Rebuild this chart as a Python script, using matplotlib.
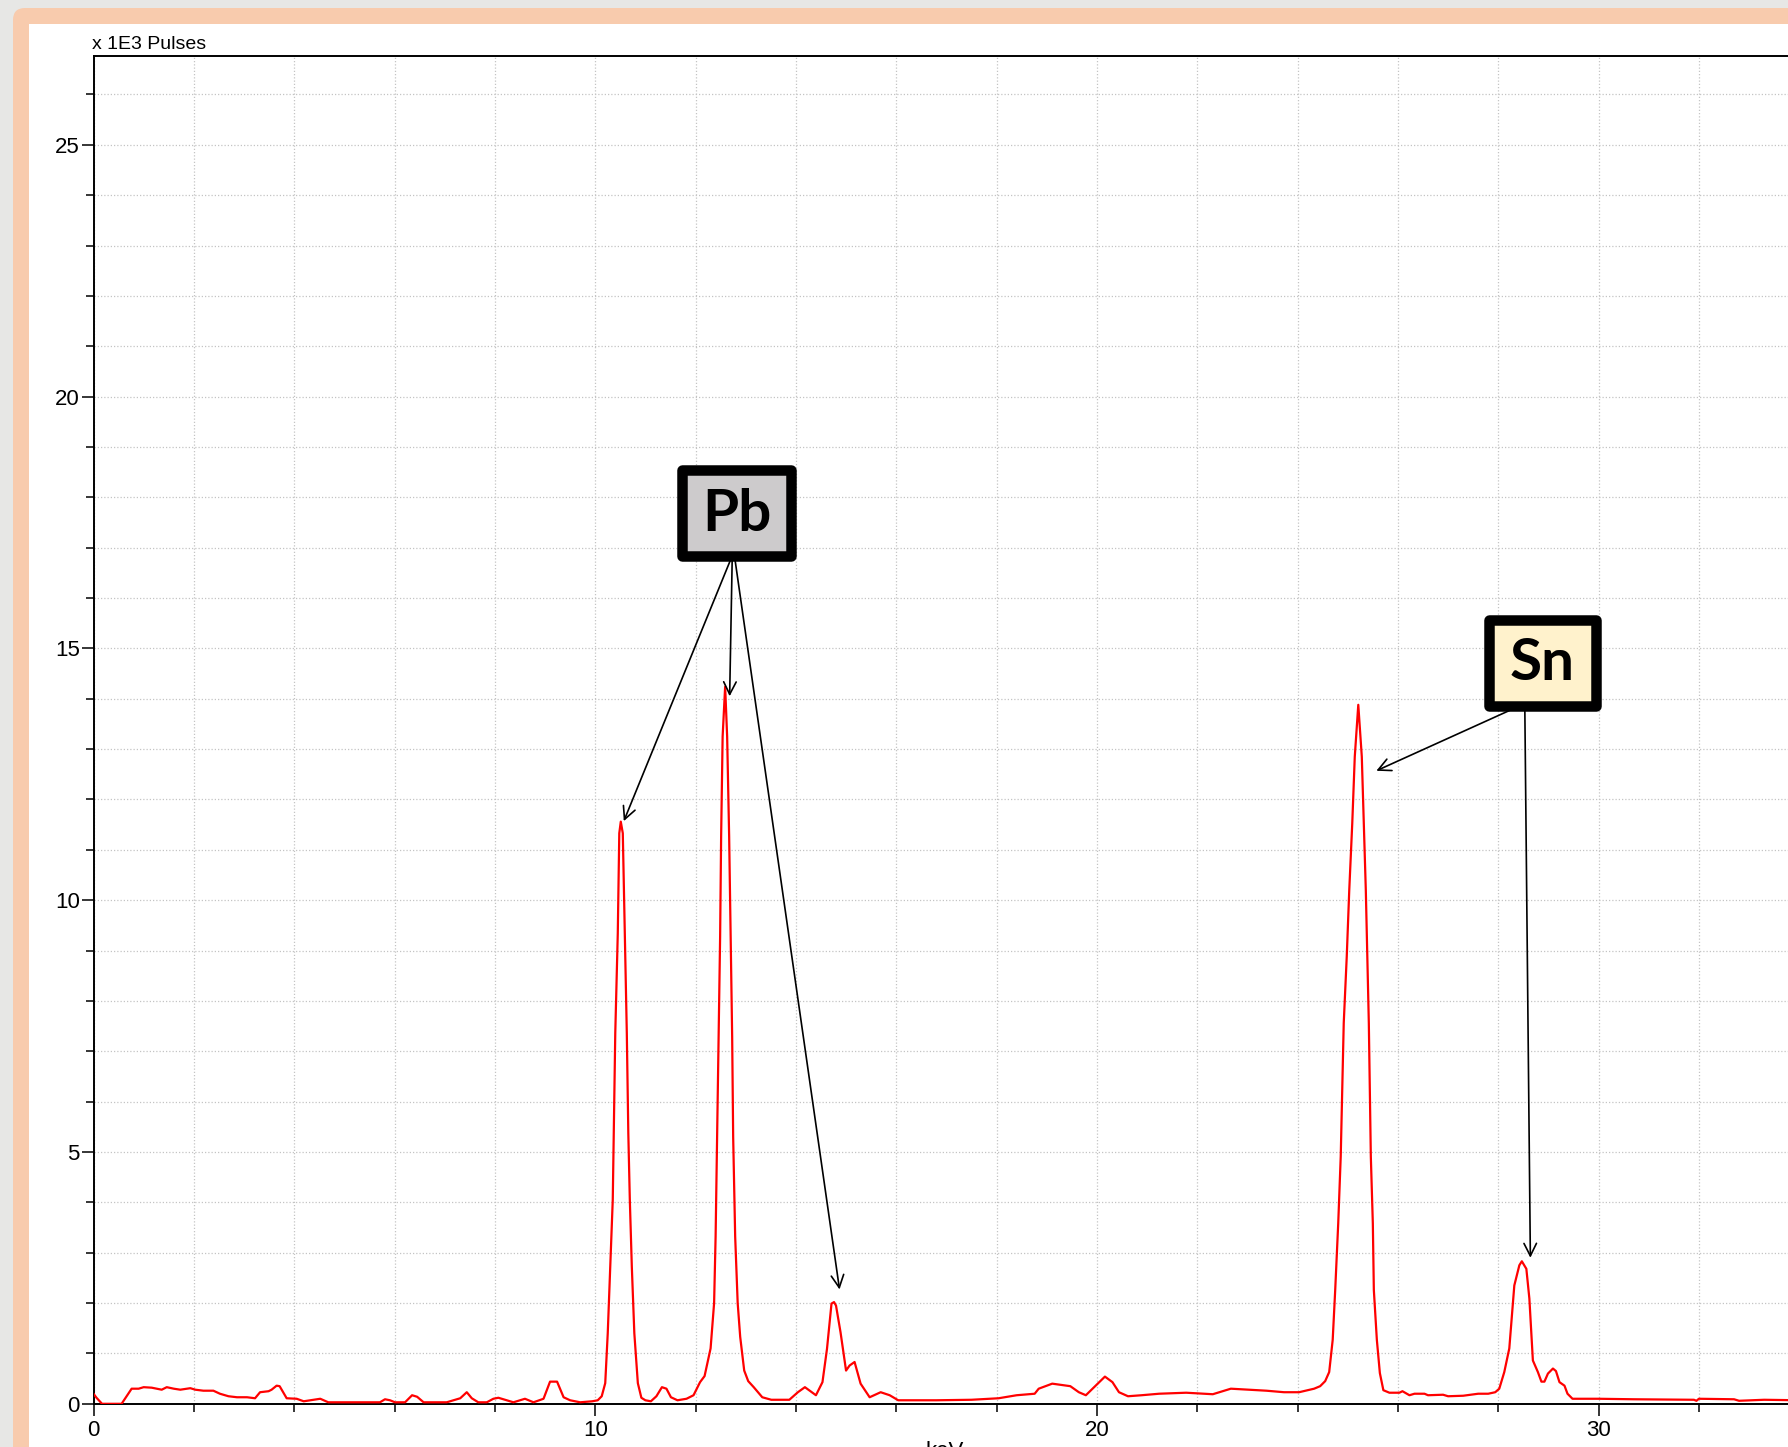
import matplotlib
matplotlib.use('Agg')
import matplotlib.pyplot as plt
from matplotlib.patches import FancyBboxPatch, Rectangle
from matplotlib.transforms import IdentityTransform
from matplotlib.ticker import MultipleLocator, FixedLocator

# ---------------- data ----------------
energy_kev = [
    0.00, 0.06, 0.17, 0.56, 0.76, 0.90, 1.00, 1.16, 1.36, 1.46, 1.60, 1.73, 1.93, 2.03,
    2.19, 2.39, 2.52, 2.69, 2.86, 3.06, 3.22, 3.32, 3.49, 3.55, 3.65, 3.71, 3.85, 4.05,
    4.19, 4.32, 4.52, 4.68, 5.71, 5.81, 5.91, 6.01, 6.21, 6.35, 6.45, 6.58, 7.04, 7.31,
    7.44, 7.54, 7.67, 7.84, 7.97, 8.07, 8.24, 8.37, 8.60, 8.77, 8.97, 9.10, 9.24, 9.37,
    9.50, 9.70, 9.94, 10.05, 10.13, 10.20, 10.25, 10.30, 10.35, 10.37, 10.40, 10.45,
    10.48, 10.51, 10.55, 10.59, 10.63, 10.66, 10.69, 10.73, 10.78, 10.85, 10.92, 11.00,
    11.11, 11.22, 11.33, 11.42, 11.51, 11.64, 11.82, 11.96, 12.09, 12.18, 12.30, 12.37,
    12.40, 12.43, 12.46, 12.49, 12.51, 12.54, 12.59, 12.63, 12.67, 12.70, 12.73, 12.75,
    12.79, 12.84, 12.89, 12.97, 13.05, 13.16, 13.33, 13.51, 13.87, 14.04, 14.18, 14.40,
    14.53, 14.62, 14.71, 14.76, 14.80, 14.89, 15.00, 15.07, 15.17, 15.29, 15.47, 15.69,
    15.87, 16.04, 16.80, 17.50, 18.04, 18.40, 18.76, 18.84, 19.11, 19.47, 19.64, 19.78,
    20.16, 20.31, 20.44, 20.62, 20.89, 21.24, 21.78, 22.31, 22.67, 23.02, 23.38, 23.73,
    24.03, 24.33, 24.45, 24.55, 24.63, 24.70, 24.75, 24.81, 24.86, 24.89, 24.92, 24.98,
    25.03, 25.09, 25.14, 25.21, 25.28, 25.32, 25.36, 25.39, 25.42, 25.44, 25.46, 25.50,
    25.52, 25.58, 25.64, 25.71, 25.83, 26.03, 26.09, 26.23, 26.33, 26.53, 26.60, 26.90,
    27.00, 27.30, 27.60, 27.80, 27.94, 28.02, 28.12, 28.22, 28.32, 28.42, 28.47, 28.56,
    28.62, 28.69, 28.79, 28.86, 28.92, 28.99, 29.09, 29.15, 29.22, 29.32, 29.38, 29.48,
    30.00, 30.70, 31.90, 31.95, 32.00, 32.70, 32.80, 33.30, 34.00,
]
pulses_k = [
    0.20, 0.12, 0.00, 0.00, 0.30, 0.30, 0.33, 0.32, 0.28, 0.33, 0.30, 0.28, 0.31, 0.28,
    0.26, 0.26, 0.20, 0.15, 0.13, 0.13, 0.11, 0.23, 0.25, 0.28, 0.36, 0.35, 0.11, 0.10,
    0.05, 0.07, 0.10, 0.03, 0.03, 0.09, 0.07, 0.03, 0.03, 0.17, 0.14, 0.03, 0.03, 0.11,
    0.23, 0.11, 0.03, 0.03, 0.10, 0.12, 0.07, 0.03, 0.10, 0.03, 0.10, 0.44, 0.44, 0.13,
    0.07, 0.03, 0.05, 0.07, 0.15, 0.41, 1.40, 2.72, 4.05, 5.37, 7.36, 9.34,
    11.33, 11.56, 11.33, 9.34, 7.36, 5.37, 4.05, 2.72, 1.40, 0.41, 0.12, 0.07,
    0.05, 0.15, 0.33, 0.30, 0.13, 0.07, 0.10, 0.17, 0.43, 0.55, 1.10, 2.00,
    3.32, 5.30, 7.29, 9.28, 11.26, 13.25, 14.24, 13.25, 11.26, 9.28, 7.29, 5.30,
    3.32, 2.00, 1.33, 0.66, 0.45, 0.33, 0.13, 0.08, 0.08, 0.23, 0.33, 0.17,
    0.43, 1.09, 1.99, 2.02, 1.95, 1.42, 0.66, 0.76, 0.83, 0.40, 0.13, 0.23,
    0.17, 0.07, 0.07, 0.08, 0.11, 0.17, 0.20, 0.30, 0.40, 0.35, 0.23, 0.17,
    0.54, 0.43, 0.23, 0.15, 0.17, 0.20, 0.22, 0.19, 0.30, 0.28, 0.26, 0.23,
    0.23, 0.30, 0.35, 0.45, 0.63, 1.27, 2.26, 3.58, 4.91, 6.23, 7.56, 8.88,
    10.20, 11.53, 12.85, 13.88, 12.85, 11.53, 10.20, 8.88, 7.56, 6.23, 4.91, 3.58,
    2.26, 1.27, 0.61, 0.27, 0.22, 0.22, 0.25, 0.17, 0.20, 0.20, 0.17, 0.18,
    0.15, 0.16, 0.20, 0.20, 0.23, 0.30, 0.63, 1.10, 2.35, 2.75, 2.83, 2.68,
    2.09, 0.86, 0.63, 0.44, 0.44, 0.60, 0.70, 0.65, 0.43, 0.36, 0.20, 0.10,
    0.10, 0.09, 0.08, 0.06, 0.10, 0.09, 0.06, 0.08, 0.07,
]

x_major_ticks = [0, 10, 20, 30]
x_tick_labels = ['0', '10', '20', '30']
y_major_ticks = [0, 5, 10, 15, 20, 25]
y_tick_labels = ['0', '5', '10', '15', '20', '25']

pb_label = 'Pb'
pb_arrow_tails = [(12.69, 16.74), (12.73, 16.74), (12.79, 16.74)]
pb_arrow_tips = [(10.57, 11.57), (12.68, 14.05), (14.87, 2.27)]
sn_label = 'Sn'
sn_arrow_tails = [(28.23, 13.77), (28.53, 13.77)]
sn_arrow_tips = [(25.57, 12.57), (28.64, 2.90)]

# ---------------- figure ----------------
W, H = 1788, 1447
fig = plt.figure(figsize=(W / 100, H / 100), dpi=100, facecolor='#E7E7E5')

ident = IdentityTransform()
# peach frame with rounded top-left corner (display pixel coords, origin bottom-left)
frame = FancyBboxPatch((13, -60), 2000, (H - 8) + 60,
                       boxstyle='round,pad=0,rounding_size=12',
                       transform=ident, fc='#F8CBAD', ec='none', zorder=-20)
fig.patches.append(frame)
inner = Rectangle((29, -60), 2000, (H - 24) + 60, transform=ident,
                  fc='white', ec='none', zorder=-19)
fig.patches.append(inner)

left = 93.5 / W
bottom = 1 - 1403.8 / H
top = 1 - 55.9 / H
xmax = 36.0
width = xmax * 50.17 / W
ax = fig.add_axes([left, bottom, width, top - bottom])
ax.set_facecolor('white')

ax.plot(energy_kev, pulses_k, color='#FF0000', lw=1.6, zorder=3, solid_joinstyle='round')

ax.set_xlim(0, xmax)
ax.set_ylim(0, 1347.9 / 50.36)

ax.xaxis.set_major_locator(FixedLocator(x_major_ticks))
ax.set_xticklabels(x_tick_labels)
ax.xaxis.set_minor_locator(MultipleLocator(2))
ax.yaxis.set_major_locator(FixedLocator(y_major_ticks))
ax.set_yticklabels(y_tick_labels)
ax.yaxis.set_minor_locator(MultipleLocator(1))

label_size = 16
for lab in ax.get_xticklabels() + ax.get_yticklabels():
    lab.set_fontfamily('Liberation Sans')
    lab.set_fontsize(label_size)
ax.tick_params(which='major', length=8.6, width=1.1, color='black', direction='out')
ax.tick_params(which='minor', length=5.8, width=1.1, color='black', direction='out')
ax.tick_params(axis='y', which='major', pad=1.2)
ax.tick_params(axis='x', which='major', pad=3.0)
ax.tick_params(top=False, right=False)

ax.grid(True, which='both', color='#C4C4C4', lw=0.9, linestyle=(0, (1, 1.6)))
ax.set_axisbelow(True)

for s in ['left', 'bottom', 'top']:
    ax.spines[s].set_color('black')
    ax.spines[s].set_linewidth(1.4)
ax.spines['right'].set_visible(False)

fig.text(92 / W, 1 - 49 / H, 'x 1E3 Pulses', ha='left', va='baseline',
         family='Liberation Sans', size=14)
fig.text(945 / W, 1 - 1441 / H, 'keV', ha='center', va='top',
         family='Liberation Sans', size=label_size)

# arrows
for tail, tip in list(zip(pb_arrow_tails, pb_arrow_tips)) + list(zip(sn_arrow_tails, sn_arrow_tips)):
    ax.annotate('', xy=tip, xytext=tail,
                arrowprops=dict(arrowstyle='->,head_length=0.6,head_width=0.3',
                                color='black', lw=1.2, mutation_scale=15,
                                shrinkA=0, shrinkB=0),
                zorder=5, annotation_clip=False)

# label boxes (display pixel coords from top-left)
def label_box(x0, y0, x1, y1, fc, text):
    bw = 10.5
    rect = Rectangle((x0 + bw / 2, H - y1 + bw / 2), (x1 - x0) - bw, (y1 - y0) - bw,
                     transform=ident, fc=fc, ec='black', lw=bw * 72 / 100,
                     joinstyle='round', zorder=10)
    fig.patches.append(rect)
    fig.text(((x0 + x1) / 2) / W, 1 - ((y0 + y1) / 2 + 1) / H, text,
             ha='center', va='center', family='Lato', weight='bold',
             size=42, color='black', zorder=11)

label_box(677, 465, 796, 561, '#CDCBCC', pb_label)
label_box(1484, 615, 1601, 711, '#FFF2CC', sn_label)

fig.savefig('out.png', dpi=100, facecolor=fig.get_facecolor())
